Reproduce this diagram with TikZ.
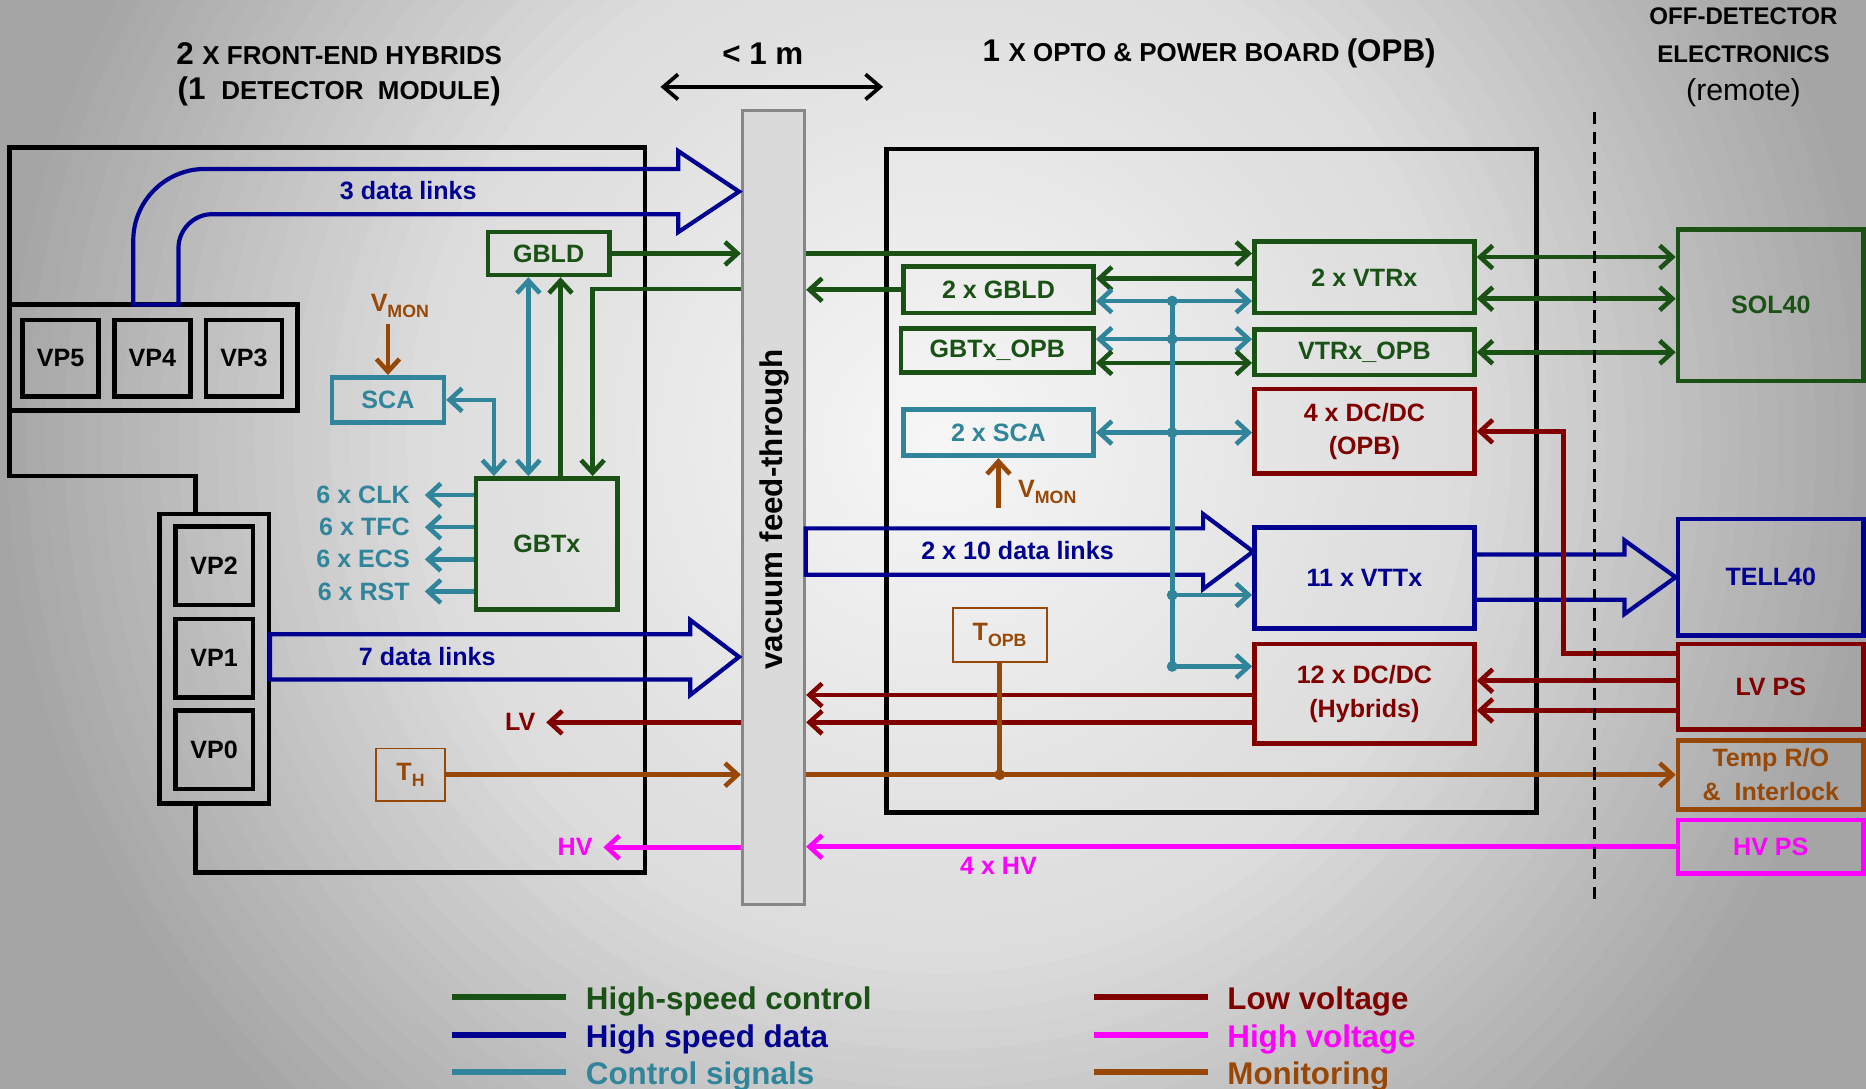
\documentclass[tikz,border=0pt]{standalone}
\usepackage{fontspec}
\setmainfont{Liberation Sans}
\usetikzlibrary{arrows.meta}

\definecolor{hsgreen}{RGB}{26,82,22}
\definecolor{hsblue}{RGB}{0,0,145}
\definecolor{csteal}{RGB}{49,133,155}
\definecolor{lvred}{RGB}{128,0,0}
\definecolor{hvmag}{RGB}{255,0,255}
\definecolor{monbrown}{RGB}{152,72,6}
\definecolor{ftfill}{RGB}{218,218,218}
\definecolor{ftedge}{RGB}{135,135,135}

\newcommand{\fsz}[1]{\fontsize{#1}{#1}\selectfont}
\newcommand{\lowsub}[1]{\raisebox{-0.45ex}{\fontsize{8.5}{10}\selectfont #1}}

\begin{document}
\begin{tikzpicture}[x=0.02cm, y=-0.02cm,
  >={Straight Barb[length=6pt,width=11pt]},
  every node/.style={font=\bfseries\fontsize{12}{16}\selectfont, align=center, inner sep=0pt},
  box/.style={draw, line width=2.2pt},
  blkbox/.style={box, draw=black},
  grnbox/.style={box, draw=hsgreen, text=hsgreen},
  blubox/.style={box, draw=hsblue, text=hsblue},
  tealbox/.style={box, draw=csteal, text=csteal},
  redbox/.style={box, draw=lvred, text=lvred},
  brnbox/.style={box, draw=monbrown, text=monbrown},
  magbox/.style={box, draw=hvmag, text=hvmag},
  tbox/.style={draw=monbrown, line width=0.9pt, text=monbrown},
  lbl/.style={inner xsep=5pt},
  hsctrl/.style={hsgreen, line width=2.2pt},
  hsdata/.style={hsblue, line width=2pt},
  ctrl/.style={csteal, line width=2.2pt},
  lowv/.style={lvred, line width=2.2pt},
  highv/.style={hvmag, line width=2.2pt},
  monit/.style={monbrown, line width=2.2pt}]

  \useasboundingbox (0,0) rectangle (1568,915);
  \begin{scope}
    \clip (0,0) rectangle (1568,915);
    \fill[black!35] (0,0) rectangle (1568,915);
    \foreach \i in {0,...,63}{
      \pgfmathsetmacro\rad{1008-16*\i}
      \pgfmathsetmacro\levA{247-27*(\rad/450)}
      \pgfmathsetmacro\levB{220-55*((\rad-450)/350)}
      \pgfmathsetmacro\lev{int(\rad>800 ? 165 : (\rad>450 ? \levB : \levA))}
      \definecolor{ringc}{RGB}{\lev,\lev,\lev}
      \pgfmathsetmacro\rr{0.02*\rad}
      \fill[ringc] (790,370) circle (\rr cm);
    }
  \end{scope}

  \node (hybA) at (285,45) {\fsz{15}2 \fsz{12.4}X FRONT-END HYBRIDS};
  \node (hybB) at (285,77) {\fsz{15}(1 \fsz{12.4}~DETECTOR ~MODULE\fsz{15})};
  \node (dist) at (641,45) {\fsz{15}< 1 m};
  \coordinate (distL) at (555,73);
  \coordinate (distR) at (742,73);
  \draw[line width=1.8pt, {Straight Barb[length=7pt,width=12pt]}-{Straight Barb[length=7pt,width=12pt]}] (distL) -- (distR);
  \node (opbtitle) at (1016,45) {\fsz{15}1 \fsz{12.4}X OPTO \& POWER BOARD \fsz{15}(OPB)};
  \node[font=\bfseries\fontsize{11.5}{18}\selectfont] (offdet) at (1465,48)
    {OFF-DETECTOR\\ELECTRONICS\\{\mdseries\fontsize{14.5}{18}\selectfont (remote)}};

  \draw[line width=2.3pt] (164,433) -- (164,400) -- (8,400) -- (8,124) -- (542,124)
    -- (542,733) -- (164,733) -- (164,675);
  \node[blkbox, minimum width=4.84cm, minimum height=1.78cm] (vptop) at (129,300.5) {};
  \node[blkbox, minimum width=1.28cm, minimum height=1.28cm] (vp5) at (51,301) {VP5};
  \node[blkbox, minimum width=1.28cm, minimum height=1.28cm] (vp4) at (128,301) {VP4};
  \node[blkbox, minimum width=1.28cm, minimum height=1.28cm] (vp3) at (205,301) {VP3};
  \node[blkbox, minimum width=1.84cm, minimum height=4.86cm] (vpcol) at (180,553.5) {};
  \node[blkbox, minimum width=1.3cm, minimum height=1.32cm] (vp2) at (180,475.5) {VP2};
  \node[blkbox, minimum width=1.3cm, minimum height=1.32cm] (vp1) at (180,553) {VP1};
  \node[blkbox, minimum width=1.3cm, minimum height=1.32cm] (vp0) at (180,630) {VP0};

  \node[ftedge, draw, fill=ftfill, line width=1.6pt, minimum width=1.04cm, minimum height=13.34cm] (ft) at (650,426.5) {};
  \node[rotate=90, font=\bfseries\fontsize{15}{18}\selectfont] (ftlabel) at (651,428) {vacuum feed-through};
  \node[blkbox, minimum width=10.92cm, minimum height=11.16cm] (opb) at (1018,404) {};

  \node[grnbox, minimum width=2.04cm, minimum height=0.72cm] (gbld) at (461,213) {GBLD};
  \node[tealbox, minimum width=1.88cm, minimum height=0.76cm] (sca) at (326,336) {SCA};
  \node[grnbox, minimum width=2.38cm, minimum height=2.2cm] (gbtx) at (459.5,457) {GBTx};
  \node[tbox, minimum width=1.16cm, minimum height=0.88cm] (th) at (345,651) {T\lowsub{H}};
  \node[text=monbrown] (vmonA) at (336,257) {V\lowsub{MON}};

  \node[grnbox, minimum width=3.2cm, minimum height=0.78cm] (gbld2) at (839,243.5) {2 x GBLD};
  \node[grnbox, minimum width=3.24cm, minimum height=0.74cm] (gbtxopb) at (838,294.5) {GBTx\_OPB};
  \node[tealbox, minimum width=3.2cm, minimum height=0.78cm] (sca2) at (839,363.5) {2 x SCA};
  \node[text=monbrown] (vmonB) at (880,413) {V\lowsub{MON}};
  \node[grnbox, minimum width=3.7cm, minimum height=1.2cm] (vtrx) at (1146.5,233) {2 x VTRx};
  \node[grnbox, minimum width=3.7cm, minimum height=0.76cm] (vtrxopb) at (1146.5,296) {VTRx\_OPB};
  \node[redbox, minimum width=3.7cm, minimum height=1.42cm] (dcopb) at (1146.5,362.5) {4 x DC/DC\\(OPB)};
  \node[blubox, minimum width=3.7cm, minimum height=1.7cm] (vttx) at (1146.5,485.5) {11 x VTTx};
  \node[redbox, minimum width=3.7cm, minimum height=1.68cm] (dchyb) at (1146.5,583) {12 x DC/DC\\(Hybrids)};
  \node[tbox, minimum width=1.58cm, minimum height=0.9cm] (topb) at (840,533.5) {T\lowsub{OPB}};

  \node[grnbox, minimum width=3.12cm, minimum height=2.54cm] (sol40) at (1488,256.5) {SOL40};
  \node[blubox, minimum width=3.12cm, minimum height=1.96cm] (tell40) at (1488,485) {TELL40};
  \node[redbox, minimum width=3.12cm, minimum height=1.44cm] (lvps) at (1488,577) {LV PS};
  \node[brnbox, minimum width=3.12cm, minimum height=1.16cm] (temp) at (1488,651) {Temp R/O\\\&~ Interlock};
  \node[magbox, minimum width=3.12cm, minimum height=0.9cm] (hvps) at (1488,711.5) {HV PS};

  \draw[hsdata] (112,256) -- (112,202) .. controls (112,169) and (139,142) .. (172,142) -- (570,142)
    -- (570,127) -- (621,161) -- (570,195) -- (570,180) -- (178,180)
    .. controls (163,180) and (150,193) .. (150,208) -- (150,256) -- cycle;
  \node[text=hsblue] (links3) at (343,160) {3 data links};
  \draw[hsdata] (227,533) -- (580,533) -- (580,521) -- (621,552) -- (580,584) -- (580,571) -- (227,571) -- cycle;
  \node[text=hsblue] (links7) at (359,552) {7 data links};
  \draw[hsdata] (677,444) -- (1011,444) -- (1011,432) -- (1053,463.5) -- (1011,495) -- (1011,483) -- (677,483) -- cycle;
  \node[text=hsblue] (links20) at (855,463) {2 x 10 data links};
  \draw[hsdata] (vttx.east |- 0,466) -- (1365,466) -- (1365,454) -- (1408,485) -- (1365,516) -- (1365,504) -- (vttx.east |- 0,504);

  \draw[hsctrl,->] (gbld.east) -- (ft.west |- gbld.east);
  \draw[hsctrl,->] (ft.west |- 0,243) -| (gbtx.north -| 498,0);
  \draw[hsctrl,->] (gbtx.north -| 471,0) -- (gbld.south -| 471,0);
  \draw[ctrl,<->] (gbld.south -| 444,0) -- (gbtx.north -| 444,0);
  \draw[ctrl,<->] (sca.east) -| (gbtx.north -| 415,0);
  \draw[monit,->] (sca.north |- 0,272) -- (sca.north);
  \foreach \y/\s in {416/CLK,443/TFC,470/ECS,497/RST}{
    \node[text=csteal, anchor=east, inner xsep=7pt] (sig\s) at (357,\y) {6 x \s};
    \draw[ctrl,->] (gbtx.west |- sig\s) -- (sig\s.east);
  }
  \node[lbl, text=lvred, anchor=east] (lvlbl) at (459,607) {LV};
  \draw[lowv,->] (ft.west |- lvlbl) -- (lvlbl.east);
  \draw[monit,->] (th.east) -- (ft.west |- th.east);
  \node[lbl, text=hvmag, anchor=east] (hvlbl) at (507,712) {HV};
  \draw[highv,->] (ft.west |- hvlbl) -- (hvlbl.east);

  \draw[hsctrl,->] (ft.east |- 0,213) -- (vtrx.west |- 0,213);
  \draw[hsctrl,->] (gbld2.west) -- (ft.east |- gbld2.west);
  \draw[hsctrl,->] (vtrx.west |- 0,234) -- (gbld2.east |- 0,234);
  \draw[ctrl,<->] (gbld2.east |- 0,253) -- (vtrx.west |- 0,253);
  \draw[ctrl,<->] (gbtxopb.east |- 0,285) -- (vtrxopb.west |- 0,285);
  \draw[hsctrl,<->] (gbtxopb.east |- 0,305) -- (vtrxopb.west |- 0,305);
  \draw[ctrl,<->] (sca2.east) -- (dcopb.west |- sca2.east);
  \draw[ctrl] (985,253) -- (985,560);
  \draw[ctrl,->] (985,500) -- (vttx.west |- 0,500);
  \draw[ctrl,->] (985,560) -- (dchyb.west |- 0,560);
  \foreach \y in {253,285,363.5,500,560}
    \fill[csteal] (985,\y) circle (2.6pt);
  \draw[monit,->] (sca2.south |- 0,427) -- (sca2.south);

  \foreach \y in {584,607}
    \draw[lowv,->] (dchyb.west |- 0,\y) -- (ft.east |- 0,\y);
  \foreach \y in {572,597}
    \draw[lowv,->] (lvps.west |- 0,\y) -- (dchyb.east |- 0,\y);
  \draw[lowv,->] (lvps.west |- 0,549) -| (1314,362.5) -- (dcopb.east);
  \draw[monit] (topb.south) -- (topb.south |- temp.west);
  \fill[monbrown] (topb.south |- temp.west) circle (2.6pt);
  \draw[monit,->] (ft.east |- temp.west) -- (temp.west);
  \draw[highv,->] (hvps.west) -- (ft.east |- hvps.west);
  \node[text=hvmag] (hv4) at (839,728) {4 x HV};

  \foreach \y in {216,251}
    \draw[hsctrl,<->] (vtrx.east |- 0,\y) -- (sol40.west |- 0,\y);
  \draw[hsctrl,<->] (vtrxopb.east) -- (sol40.west |- vtrxopb.east);
  \draw[line width=1.3pt, dash pattern=on 6pt off 3.5pt] (1340,94) -- (1340,760);

  \foreach \y/\c/\t in {838/hsgreen/High-speed control,870/hsblue/High speed data,901/csteal/Control signals}{
    \draw[\c, line width=2.8pt] (380,\y) -- (476,\y);
    \node[text=\c, anchor=base west, font=\bfseries\fontsize{15}{18}\selectfont] (keyA\y) at (492,{\y+10}) {\t};
  }
  \foreach \y/\c/\t in {838/lvred/Low voltage,870/hvmag/High voltage,901/monbrown/Monitoring}{
    \draw[\c, line width=2.8pt] (919,\y) -- (1015,\y);
    \node[text=\c, anchor=base west, font=\bfseries\fontsize{15}{18}\selectfont] (keyB\y) at (1031,{\y+10}) {\t};
  }
\end{tikzpicture}
\end{document}
